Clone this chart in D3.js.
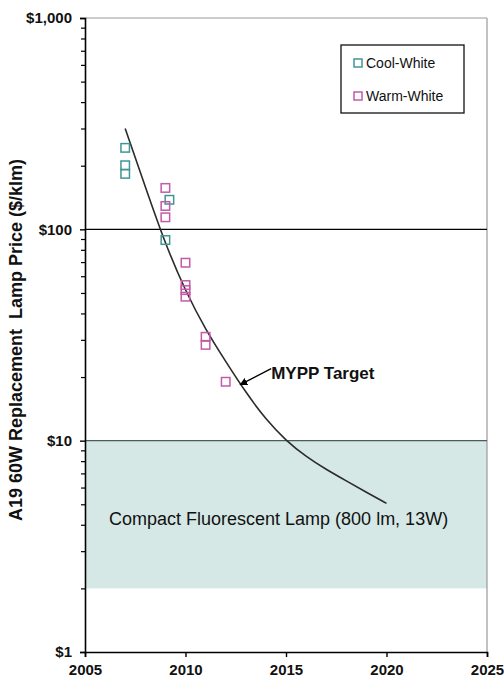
<!DOCTYPE html>
<html>
<head>
<meta charset="utf-8">
<script src="https://d3js.org/d3.v7.min.js"></script>
<style>
  body { margin: 0; background: #fff; }
  svg text { font-family: "Liberation Sans", Arial, sans-serif; }
</style>
</head>
<body>
<div id="chart"></div>
<script>
// chart values
const coolYears = [2007, 2007, 2007, 2009.2, 2009];
const coolPrices = [243, 201, 183, 138, 89];
const warmYears = [2009, 2009, 2009, 2010, 2010, 2010, 2010, 2011, 2011, 2012];
const warmPrices = [157, 129, 114, 69.5, 54.5, 51.6, 48, 31, 28.4, 19];
const targetYears = [2007, 2008, 2009, 2010, 2011, 2012, 2013, 2014, 2015, 2016, 2017, 2018, 2019, 2020];
const targetPrices = [300, 159, 85, 51, 33.5, 23.7, 16.9, 12.6, 10.0, 8.4, 7.3, 6.45, 5.7, 5.05];
const cflBand = [2, 10];
const refLines = [100, 10];
const xTicks = [2005, 2010, 2015, 2020, 2025];
const yTicks = [1, 10, 100, 1000];
const legendNames = ["Cool-White", "Warm-White"];

const W = 504, H = 677;
const margin = {top: 18, right: 17, bottom: 25, left: 85};
const w = W - margin.left - margin.right;
const h = H - margin.top - margin.bottom;

const teal = "#3f9794", pink = "#c45aa8";

const svg = d3.select("#chart").append("svg")
  .attr("width", W).attr("height", H);

const g = svg.append("g")
  .attr("transform", `translate(${margin.left},${margin.top})`);

const x = d3.scaleLinear().domain([2005, 2025]).range([0, w]);
const y = d3.scaleLog().domain([1, 1000]).range([h, 0]);

// CFL band
g.append("rect")
  .attr("x", x(2005)).attr("width", x(2025) - x(2005))
  .attr("y", y(cflBand[1])).attr("height", y(cflBand[0]) - y(cflBand[1]))
  .attr("fill", "#d5e8e6");

// frame (top/right)
g.append("line").attr("x1", 0).attr("x2", w).attr("y1", 0).attr("y2", 0)
  .attr("stroke", "#999").attr("stroke-width", 1.2);
g.append("line").attr("x1", w).attr("x2", w).attr("y1", 0).attr("y2", h)
  .attr("stroke", "#999").attr("stroke-width", 1.2);

// reference lines
g.selectAll(".ref").data(refLines).enter().append("line")
  .attr("x1", 0).attr("x2", w)
  .attr("y1", d => y(d)).attr("y2", d => y(d))
  .attr("stroke", (d, i) => i === 0 ? "#000" : "#4c5c5b")
  .attr("stroke-width", 1.3);

// target line
const line = d3.line()
  .x((d, i) => x(targetYears[i]))
  .y(d => y(d))
  .curve(d3.curveBasis);

g.append("path")
  .datum(targetPrices)
  .attr("d", line)
  .attr("fill", "none")
  .attr("stroke", "#2b2b2b")
  .attr("stroke-width", 1.6);

// markers
const sq = 8.5;
function drawSquares(xs, ys, color) {
  g.selectAll(null).data(ys).enter().append("rect")
    .attr("x", (d, i) => x(xs[i]) - sq / 2)
    .attr("y", d => y(d) - sq / 2)
    .attr("width", sq).attr("height", sq)
    .attr("fill", "none")
    .attr("stroke", color)
    .attr("stroke-width", 1.5);
}
drawSquares(coolYears, coolPrices, teal);
drawSquares(warmYears, warmPrices, pink);

// axes
const fmt = d3.format(",");
const yAxis = d3.axisLeft(y).tickValues(yTicks).tickSize(5).tickPadding(8)
  .tickFormat(d => "$" + fmt(d));
const minor = [];
for (let dec = 1; dec < 1000; dec *= 10) for (let k = 2; k <= 9; k++) minor.push(dec * k);
const yMinor = d3.axisLeft(y).tickValues(minor).tickSize(4).tickFormat("");

const xAxis = d3.axisBottom(x).tickValues(xTicks).tickSize(5).tickPadding(7)
  .tickFormat(d3.format("d"));

g.append("g").call(yMinor).call(a => a.select(".domain").remove())
  .selectAll("line").attr("stroke", "#000").attr("stroke-width", 1.2);

const ya = g.append("g").call(yAxis);
const xa = g.append("g").attr("transform", `translate(0,${h})`).call(xAxis);

[ya, xa].forEach(a => {
  a.select(".domain").attr("stroke", "#000").attr("stroke-width", 1.6);
  a.selectAll(".tick line").attr("stroke", "#000").attr("stroke-width", 1.4);
  a.selectAll("text")
    .attr("font-size", 15).attr("font-weight", "bold").attr("fill", "#111");
});

// y label
svg.append("text")
  .attr("transform", `translate(22,${margin.top + h / 2 + 5}) rotate(-90)`)
  .attr("text-anchor", "middle")
  .attr("font-size", 18).attr("font-weight", "bold")
  .attr("fill", "#111")
  .attr("xml:space", "preserve")
  .text("A19 60W Replacement  Lamp Price ($/klm)");

// CFL label
g.append("text")
  .attr("x", x(2005) + 24).attr("y", y(cflBand[1]) + 84)
  .attr("font-size", 18).attr("fill", "#111")
  .text("Compact Fluorescent Lamp (800 lm, 13W)");

// MYPP annotation
svg.append("defs").append("marker")
  .attr("id", "arr").attr("viewBox", "0 0 10 10")
  .attr("refX", 9).attr("refY", 5)
  .attr("markerWidth", 6).attr("markerHeight", 6)
  .attr("orient", "auto")
  .append("path").attr("d", "M0,0L10,5L0,10z").attr("fill", "#000");

const tipX = x(2012.72), tipY = y(18.4);
g.append("line")
  .attr("x1", tipX + 31).attr("y1", tipY - 16)
  .attr("x2", tipX).attr("y2", tipY)
  .attr("stroke", "#000").attr("stroke-width", 1.3)
  .attr("marker-end", "url(#arr)");

g.append("text")
  .attr("x", tipX + 31).attr("y", tipY - 6)
  .attr("font-size", 17).attr("font-weight", "bold").attr("fill", "#111")
  .text("MYPP Target");

// legend
const lg = svg.append("g").attr("transform", "translate(341,45)");
lg.append("rect").attr("width", 123).attr("height", 68)
  .attr("fill", "#fff").attr("stroke", "#111").attr("stroke-width", 1.3);
lg.selectAll(".li").data(legendNames).enter().append("g")
  .attr("transform", (d, i) => `translate(17,${18 + i * 33})`)
  .each(function (d, i) {
    const s = d3.select(this);
    s.append("rect").attr("x", -4).attr("y", -4).attr("width", 8).attr("height", 8)
      .attr("fill", "none").attr("stroke", i === 0 ? teal : pink).attr("stroke-width", 1.5);
    s.append("text").attr("x", 8).attr("y", 5)
      .attr("font-size", 14).attr("fill", "#111").text(d);
  });
</script>
</body>
</html>
